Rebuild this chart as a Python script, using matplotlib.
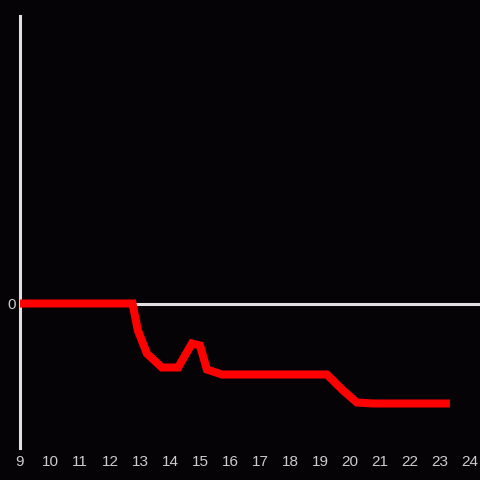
import matplotlib
matplotlib.use("Agg")
import matplotlib.pyplot as plt

# data
xs = [9, 12.75, 12.93, 13.23, 13.73, 14.27, 14.73, 15.0, 15.23, 15.73,
      19.23, 19.77, 20.23, 20.77, 23.33]
ys = [0, 0, -0.27, -0.5, -0.64, -0.64, -0.4, -0.42, -0.66, -0.71,
      -0.71, -0.87, -0.99, -1.0, -1.0]
xticks = list(range(9, 25))

bg = "#050306"
axis_col = "#e0e0e0"

plt.rcParams["font.family"] = ["Liberation Sans", "DejaVu Sans"]

fig = plt.figure(figsize=(4.8, 4.8), dpi=100, facecolor=bg)
ax = fig.add_axes([20 / 480, 32 / 480, 460 / 480, 432 / 480], facecolor=bg)

ax.axhline(0, color=axis_col, lw=2.2, zorder=1)
ax.plot(xs, ys, color="#ff0000", lw=5.8, solid_joinstyle="miter",
        solid_capstyle="butt", zorder=3)

ax.set_xlim(9, 9 + 460 / 30)
ax.set_ylim(-1.445, 2.875)
ax.set_xticks(xticks)
ax.set_yticks([0])
ax.tick_params(length=0, colors="#cccccc", labelsize=11)
ax.tick_params(axis="x", pad=5)
ax.tick_params(axis="y", pad=3)

for s in ["top", "right", "bottom"]:
    ax.spines[s].set_visible(False)
ax.spines["left"].set_color(axis_col)
ax.spines["left"].set_linewidth(2.2)

fig.savefig("out.png", facecolor=bg)
